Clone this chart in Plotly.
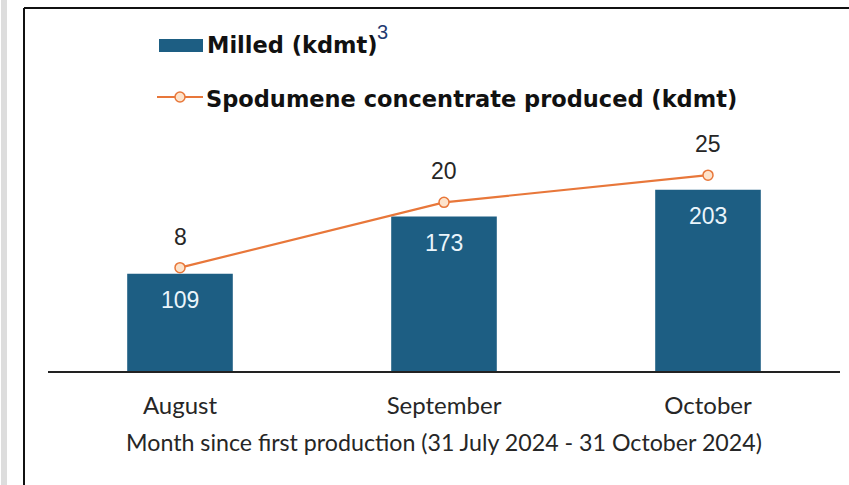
import plotly.graph_objects as go

# values
months = ["August", "September", "October"]
milled_kdmt = [109, 173, 203]
spodumene_kdmt = [8, 20, 25]

x_title = "Month since first production (31 July 2024 - 31 October 2024)"
milled_name = "Milled (kdmt)"
spodumene_name = "Spodumene concentrate produced (kdmt)"
milled_note = "3"

BAR_COLOR = "#1D5E83"
LINE_COLOR = "#E8773A"
MARKER_FILL = "#FDE3CB"

W, H = 849, 485
L, R, T, B = 48, 9, 130, 114
PW, PH = W - L - R, H - T - B


def px_x(px):
    return (px - L) / PW


def px_y(py):
    return (H - B - py) / PH


fig = go.Figure()

fig.add_trace(go.Bar(
    x=months,
    y=milled_kdmt,
    name=milled_name,
    marker=dict(color=BAR_COLOR, line=dict(width=0)),
    width=0.4,
))

fig.add_trace(go.Scatter(
    x=months,
    y=spodumene_kdmt,
    name=spodumene_name,
    yaxis="y2",
    mode="lines+markers",
    line=dict(color=LINE_COLOR, width=2.2),
    marker=dict(size=10, color=MARKER_FILL, line=dict(color=LINE_COLOR, width=1.5)),
))

label_font = dict(family="Liberation Sans, Arial, sans-serif", size=23)
annotations = []
for m, v in zip(months, milled_kdmt):
    annotations.append(dict(
        x=m, y=v, xref="x", yref="y", text=str(v), showarrow=False,
        yshift=-26, font=dict(label_font, color="#EAF5FB"),
    ))
for m, v in zip(months, spodumene_kdmt):
    annotations.append(dict(
        x=m, y=v, xref="x", yref="y2", text=str(v), showarrow=False,
        yshift=31, font=dict(label_font, color="#262626"),
    ))

# hand-made legend (wide swatch like the original)
legend_font = dict(family="DejaVu Sans, sans-serif", size=22.5, color="#111111")
annotations.append(dict(
    x=px_x(205), y=px_y(45), xref="paper", yref="paper", xanchor="left", yanchor="middle",
    text=f"<b>{milled_name}</b>", showarrow=False, font=legend_font,
))
annotations.append(dict(
    x=px_x(375), y=px_y(32), xref="paper", yref="paper", xanchor="left", yanchor="middle",
    text=milled_note, showarrow=False,
    font=dict(family="Liberation Sans, Arial, sans-serif", size=20, color="#1F3A70"),
))
annotations.append(dict(
    x=px_x(204), y=px_y(99), xref="paper", yref="paper", xanchor="left", yanchor="middle",
    text=f"<b>{spodumene_name}</b>", showarrow=False, font=legend_font,
))

shapes = [
    # legend swatches
    dict(type="rect", xref="paper", yref="paper", x0=px_x(159), x1=px_x(203),
         y0=px_y(52), y1=px_y(39), fillcolor=BAR_COLOR, line=dict(width=0)),
    dict(type="line", xref="paper", yref="paper", x0=px_x(157), x1=px_x(203),
         y0=px_y(97), y1=px_y(97), line=dict(color=LINE_COLOR, width=2)),
    dict(type="circle", xref="paper", yref="paper", x0=px_x(175), x1=px_x(185),
         y0=px_y(102), y1=px_y(92), fillcolor=MARKER_FILL, line=dict(color=LINE_COLOR, width=1.5)),
    # frame around the chart
    dict(type="line", xref="paper", yref="paper", x0=px_x(24), x1=px_x(849),
         y0=px_y(8), y1=px_y(8), line=dict(color="#111111", width=2)),
    dict(type="line", xref="paper", yref="paper", x0=px_x(24), x1=px_x(24),
         y0=px_y(8), y1=px_y(485), line=dict(color="#111111", width=2)),
    dict(type="rect", xref="paper", yref="paper", x0=px_x(1), x1=px_x(7),
         y0=px_y(485), y1=px_y(0), fillcolor="#DDDDDD", line=dict(width=0)),
]

fig.update_layout(
    width=W,
    height=H,
    margin=dict(l=L, r=R, t=T, b=B, autoexpand=False),
    paper_bgcolor="white",
    plot_bgcolor="white",
    showlegend=False,
    bargap=0.6,
    annotations=annotations,
    shapes=shapes,
    xaxis=dict(
        showline=True,
        linecolor="#222222",
        linewidth=1.5,
        showgrid=False,
        ticks="",
        ticklabelstandoff=12,
        tickfont=dict(family="Lato, sans-serif", size=24, color="#262626"),
        title=dict(text=x_title, standoff=17,
                   font=dict(family="Lato, sans-serif", size=23.2, color="#262626")),
    ),
    yaxis=dict(visible=False, range=[0, 270], showgrid=False),
    yaxis2=dict(visible=False, range=[-11.0, 33.3], overlaying="y", showgrid=False),
)

# the page body has a default 8px margin; drop it so the figure sits at 0,0
fig.write_html(
    "out.html",
    config={"displayModeBar": False},
    post_script="document.body.style.margin = '0';",
)
